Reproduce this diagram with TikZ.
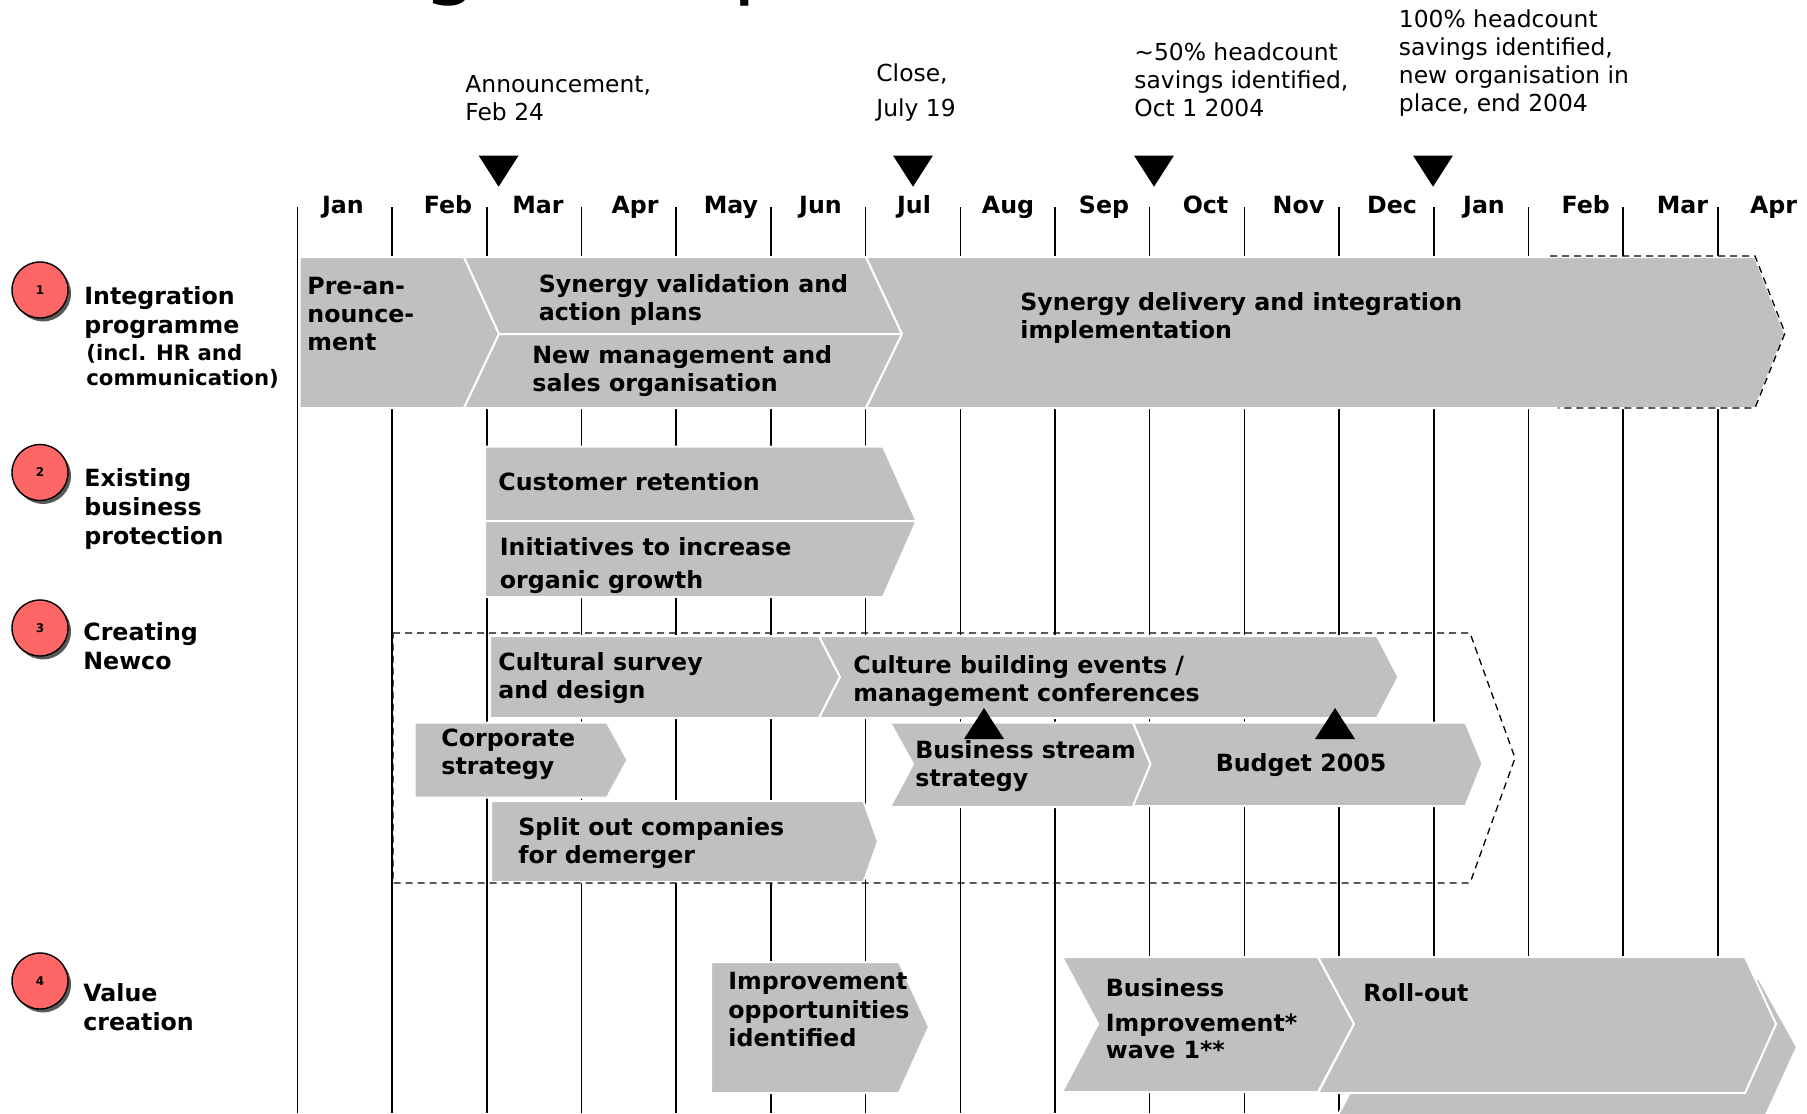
\documentclass[tikz,border=0pt]{standalone}
\usepackage{fontspec}
\setmainfont{DejaVu Sans}
\usetikzlibrary{shadows}
\definecolor{barfill}{RGB}{192,192,192}
\definecolor{dotred}{RGB}{255,102,102}
\tikzset{
  bar/.style={fill=barfill, draw=white, line width=1pt},
  txt/.style={anchor=base west, inner sep=0pt, align=left,
    font=\bfseries\fontsize{11.85}{14}\selectfont},
  rowtxt/.style={txt, font=\bfseries\fontsize{11.85}{14.5}\selectfont},
  note/.style={anchor=base west, inner sep=0pt, align=left,
    font=\fontsize{11.7}{14}\selectfont},
  month/.style={anchor=base, inner sep=0pt, font=\bfseries\fontsize{11.85}{14}\selectfont},
  numdot/.style={circle, draw, line width=0.7pt, fill=dotred, minimum size=28pt,
    inner sep=0pt, font=\bfseries\fontsize{6}{7}\selectfont,
    drop shadow={shadow xshift=1.5pt, shadow yshift=-1.7pt, fill=black!65, opacity=1}},
  gridline/.style={line width=0.75pt},
  dashbox/.style={dash pattern=on 3.5pt off 2.5pt, line width=0.65pt}
}
\begin{document}
\begin{tikzpicture}[x=0.5pt, y=-0.5pt]
\useasboundingbox (0,0) rectangle (1807,1113);
\clip (0,0) rectangle (1807,1113);

\node[anchor=base west, inner sep=0pt, font=\fontsize{45}{54}\selectfont] (titleg) at (422,-12) {g};
\node[anchor=base west, inner sep=0pt, font=\fontsize{45}{54}\selectfont] (titlep) at (732,-12) {p};

\node[note] (ann1) at (465,120.7) {Announcement,\\Feb 24};
\node[note] (ann2) at (876,116.7) {Close,\\[3.5pt]July 19};
\node[note] (ann3) at (1134,116.7) {\textasciitilde 50\% headcount\\savings identified,\\Oct 1 2004};
\node[note] (ann4) at (1398.5,111.7) {100\% headcount\\savings identified,\\new organisation in\\place, end 2004};

\foreach \x in {498.6,913,1154,1433}
  \fill (\x-20,155.5) -- (\x+20,155.5) -- (\x,186.7) -- cycle;

\foreach \k in {0,...,15}
  \draw[gridline] ({297.4+94.7*\k},207) -- ({297.4+94.7*\k},1113);
\foreach \m/\x [count=\k] in {Jan/343,Feb/448,Mar/538,Apr/635,May/731,Jun/820.5,Jul/914,Aug/1008,
    Sep/1104,Oct/1205.5,Nov/1298.5,Dec/1392,Jan/1484,Feb/1585.7,Mar/1682.5,Apr/1773.6}
  \node[month] (m\k) at (\x,213) {\m};

\node[numdot] (n1) at (40,290) {1};
\node[rowtxt] (r1) at (84,333.5) {Integration\\programme};
\node[txt, font=\bfseries\fontsize{10.6}{12.5}\selectfont] (r1b) at (86,385) {(incl. HR and\\communication)};
\node[numdot] (n2) at (40,472.5) {2};
\node[rowtxt] (r2) at (84,544) {Existing\\business\\protection};
\node[numdot] (n3) at (40,628) {3};
\node[rowtxt] (r3) at (83,669) {Creating\\Newco};
\node[numdot] (n4) at (40,981) {4};
\node[rowtxt] (r4) at (83,1030) {Value\\creation};

\draw[bar] (299.5,257) -- (464,257) -- (499,334) -- (464,408) -- (299.5,408) -- cycle;
\draw[bar] (464,257) -- (866,257) -- (902,334) -- (499,334) -- cycle;
\draw[bar] (499,334) -- (902,334) -- (866,408) -- (464,408) -- cycle;
\draw[bar] (866,257) -- (1755,257) -- (1785,334) -- (1755,408) -- (866,408) -- (902,334) -- cycle;
\draw[dashbox] (1550,256) -- (1755,256) -- (1785,333) -- (1755,408) -- (1558,408);
\node[txt] (pre) at (307,350) {Pre-an-\\nounce-\\ment};
\node[txt] (synval) at (538.5,320) {Synergy validation and\\action plans};
\node[txt] (newmgmt) at (532,391.7) {New management and\\sales organisation};
\node[txt] (syndel) at (1020,338.3) {Synergy delivery and integration\\implementation};

\draw[bar] (485,446.5) -- (883,446.5) -- (916.5,521) -- (485,521) -- cycle;
\draw[bar] (485,521) -- (916.5,521) -- (883,597) -- (485,597) -- cycle;
\node[txt] (custret) at (498,490) {Customer retention};
\node[txt] (organic) at (499.5,588.3) {Initiatives to increase\\[2.6pt]organic growth};

\draw[bar] (490,636) -- (819,636) -- (840,677) -- (819,718) -- (490,718) -- cycle;
\draw[bar] (819,636) -- (1377,636) -- (1398.5,677) -- (1377,718) -- (819,718) -- (840,677) -- cycle;
\draw[bar] (414.5,722.5) -- (607,722.5) -- (627.5,760) -- (607,797.5) -- (414.5,797.5) -- cycle;
\draw[bar] (491,801) -- (863.5,801) -- (878,841.5) -- (863.5,882) -- (491,882) -- cycle;
\draw[bar] (890,722.5) -- (1133,722.5) -- (1150.5,764) -- (1133,807) -- (890,807) -- (913,764) -- cycle;
\draw[bar] (1133,722.5) -- (1465.5,722.5) -- (1482.5,763.5) -- (1465.5,806) -- (1133,806) -- (1150.5,764) -- cycle;
\draw[dashbox] (393,633) -- (1470,633) -- (1515,758) -- (1470,883) -- (393,883) -- cycle;
\fill (964,739) -- (1004,739) -- (984,708) -- cycle;
\fill (1315,739) -- (1355,739) -- (1335,708) -- cycle;
\node[txt] (cultsurv) at (498,698.3) {Cultural survey\\and design};
\node[txt] (cultbuild) at (853,701.7) {Culture building events /\\management conferences};
\node[txt] (corpstrat) at (441,774) {Corporate\\strategy};
\node[txt] (split) at (518,863.3) {Split out companies\\for demerger};
\node[txt] (busstream) at (915,786.7) {Business stream\\strategy};
\node[txt, anchor=base] (budget) at (1301,771.5) {Budget 2005};

\draw[bar] (711,962) -- (899,962) -- (929,1027) -- (899,1093) -- (711,1093) -- cycle;
\draw[bar] (1338,979) -- (1759,979) -- (1797,1047) -- (1766,1115) -- (1338,1115) -- (1374,1047) -- cycle;
\draw[bar] (1062,957) -- (1318,957) -- (1354,1024) -- (1318,1092) -- (1062,1092) -- (1098,1024) -- cycle;
\draw[bar] (1318,957) -- (1745,957) -- (1776,1024) -- (1745,1093) -- (1318,1093) -- (1354,1024) -- cycle;
\node[txt, font=\bfseries\fontsize{11.85}{14.25}\selectfont] (improve) at (728,1046.7) {Improvement\\opportunities\\identified};
\node[txt] (bizimp) at (1105.5,1058.3) {Business\\[3.5pt]Improvement*\\[-0.7pt]wave 1**};
\node[txt] (rollout) at (1363,1001.7) {Roll-out};
\end{tikzpicture}
\end{document}
